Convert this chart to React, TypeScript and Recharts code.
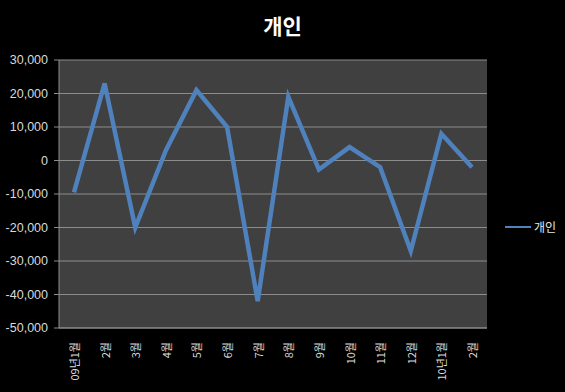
import React from 'react';
import { LineChart, Line, XAxis, YAxis, CartesianGrid, Legend } from 'recharts';

const months = ['09년1월', '2월', '3월', '4월', '5월', '6월', '7월', '8월', '9월', '10월', '11월', '12월', '10년1월', '2월'];
const personal = [-9500, 23000, -20000, 3000, 21000, 10000, -42000, 19000, -2700, 4000, -2000, -27000, 8000, -2000];
const yTicks = [-50000, -40000, -30000, -20000, -10000, 0, 10000, 20000, 30000];

const data = months.map((m, i) => ({ month: m, 개인: personal[i] }));

const fmt = (v: number) => v.toLocaleString('en-US');

function MonthTick(props: any) {
  const { x, y, payload } = props;
  return (
    <text
      x={x}
      y={y}
      transform={`rotate(-90, ${x}, ${y})`}
      textAnchor="end"
      dominantBaseline="central"
      fill="#d9d9d9"
      fontSize={11}
      fontFamily="'Noto Sans CJK KR', sans-serif"
    >
      {payload.value}
    </text>
  );
}

function LegendBox() {
  return (
    <div style={{ display: 'flex', alignItems: 'center', gap: 3 }}>
      <div style={{ width: 26, height: 2, background: '#4f81bd' }} />
      <span style={{ color: '#e6e6e6', fontSize: 12, fontFamily: "'Noto Sans CJK KR', sans-serif" }}>개인</span>
    </div>
  );
}

export default function App() {
  return (
    <div style={{ position: 'fixed', left: 0, top: 0, width: 565, height: 392, background: '#000' }}>
      <div
        style={{
          position: 'absolute',
          top: 10,
          left: 0,
          width: 565,
          textAlign: 'center',
          color: '#fff',
          fontWeight: 'bold',
          fontSize: 21,
          fontFamily: "'Noto Sans CJK KR', sans-serif",
        }}
      >
        개인
      </div>
      <LineChart width={565} height={392} data={data} margin={{ top: 60, right: 18, left: 0, bottom: 0 }}>
        <CartesianGrid vertical={false} stroke="#8c8c8c" fill="#404040" />
        <XAxis
          dataKey="month"
          height={64}
          interval={0}
          tick={<MonthTick />}
          tickMargin={8}
          stroke="#8c8c8c"
          tickLine={false}
          padding={{ left: 15, right: 15 }}
        />
        <YAxis
          width={59}
          domain={[-50000, 30000]}
          ticks={yTicks}
          tickFormatter={fmt}
          stroke="#8c8c8c"
          tickSize={5}
          tickMargin={6}
          tick={{ fill: '#d9d9d9', fontSize: 12.5, fontFamily: "'Liberation Sans', Arial, sans-serif" }}
          allowDataOverflow
        />
        <Legend
          layout="horizontal"
          verticalAlign="middle"
          align="right"
          content={<LegendBox />}
          wrapperStyle={{ position: 'absolute', left: 505, top: 218, width: 60 }}
        />
        <Line
          type="linear"
          dataKey="개인"
          stroke="#4f81bd"
          strokeWidth={4.5}
          dot={false}
          isAnimationActive={false}
        />
      </LineChart>
    </div>
  );
}
